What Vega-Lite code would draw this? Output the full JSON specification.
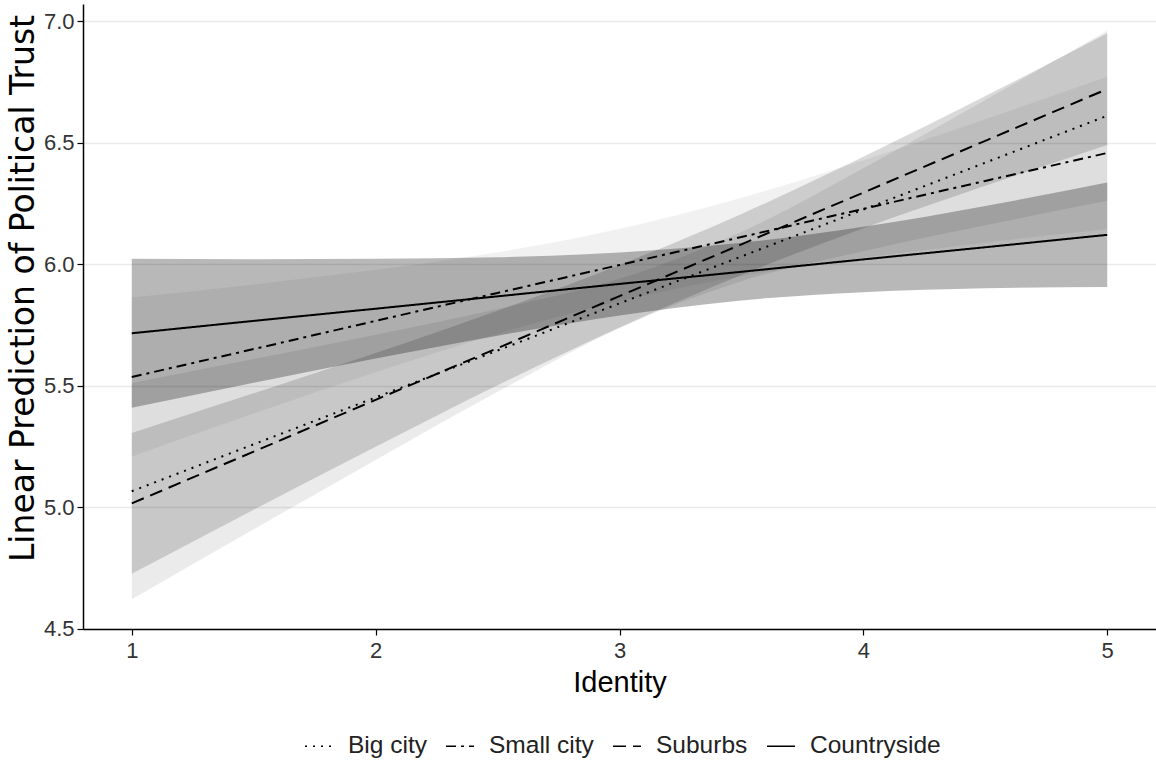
{
  "$schema": "https://vega.github.io/schema/vega-lite/v6.json",
  "width": 1073,
  "height": 625,
  "autosize": {"type": "none"},
  "padding": {"left": 83, "top": 4, "right": 0, "bottom": 135},
  "background": "white",
  "config": {
    "font": "Liberation Sans",
    "view": {"stroke": null},
    "axis": {
      "domainColor": "black",
      "domainWidth": 1.5,
      "tickColor": "black",
      "tickWidth": 1.2,
      "tickSize": 6,
      "labelFontSize": 22,
      "labelColor": "#333333",
      "labelFont": "Liberation Sans",
      "titleFont": "Liberation Sans",
      "titleFontSize": 29,
      "titleFontWeight": "normal",
      "titleColor": "black",
      "gridColor": "#ebebeb",
      "gridWidth": 1.5
    },
    "legend": {
      "labelFontSize": 24.5,
      "labelFont": "Liberation Sans",
      "labelColor": "#222222"
    }
  },
  "data": {
    "values": [
      {"group": "Big city", "x": 1, "fit": 5.065, "lo": 4.620, "hi": 5.510},
      {"group": "Big city", "x": 1.5, "fit": 5.258, "lo": 4.908, "hi": 5.609},
      {"group": "Big city", "x": 2, "fit": 5.451, "lo": 5.193, "hi": 5.709},
      {"group": "Big city", "x": 2.5, "fit": 5.644, "lo": 5.474, "hi": 5.815},
      {"group": "Big city", "x": 3, "fit": 5.838, "lo": 5.736, "hi": 5.939},
      {"group": "Big city", "x": 3.5, "fit": 6.031, "lo": 5.929, "hi": 6.132},
      {"group": "Big city", "x": 4, "fit": 6.224, "lo": 6.053, "hi": 6.394},
      {"group": "Big city", "x": 4.5, "fit": 6.417, "lo": 6.159, "hi": 6.675},
      {"group": "Big city", "x": 5, "fit": 6.610, "lo": 6.260, "hi": 6.960},
      {"group": "Small city", "x": 1, "fit": 5.535, "lo": 5.208, "hi": 5.862},
      {"group": "Small city", "x": 1.5, "fit": 5.650, "lo": 5.385, "hi": 5.916},
      {"group": "Small city", "x": 2, "fit": 5.766, "lo": 5.555, "hi": 5.976},
      {"group": "Small city", "x": 2.5, "fit": 5.881, "lo": 5.713, "hi": 6.048},
      {"group": "Small city", "x": 3, "fit": 5.996, "lo": 5.848, "hi": 6.145},
      {"group": "Small city", "x": 3.5, "fit": 6.111, "lo": 5.950, "hi": 6.273},
      {"group": "Small city", "x": 4, "fit": 6.227, "lo": 6.026, "hi": 6.427},
      {"group": "Small city", "x": 4.5, "fit": 6.342, "lo": 6.088, "hi": 6.596},
      {"group": "Small city", "x": 5, "fit": 6.457, "lo": 6.143, "hi": 6.771},
      {"group": "Suburbs", "x": 1, "fit": 5.015, "lo": 4.725, "hi": 5.305},
      {"group": "Suburbs", "x": 1.5, "fit": 5.228, "lo": 4.989, "hi": 5.468},
      {"group": "Suburbs", "x": 2, "fit": 5.441, "lo": 5.248, "hi": 5.634},
      {"group": "Suburbs", "x": 2.5, "fit": 5.654, "lo": 5.501, "hi": 5.808},
      {"group": "Suburbs", "x": 3, "fit": 5.868, "lo": 5.739, "hi": 5.996},
      {"group": "Suburbs", "x": 3.5, "fit": 6.081, "lo": 5.955, "hi": 6.206},
      {"group": "Suburbs", "x": 4, "fit": 6.294, "lo": 6.147, "hi": 6.441},
      {"group": "Suburbs", "x": 4.5, "fit": 6.507, "lo": 6.322, "hi": 6.691},
      {"group": "Suburbs", "x": 5, "fit": 6.720, "lo": 6.490, "hi": 6.950},
      {"group": "Countryside", "x": 1, "fit": 5.715, "lo": 5.408, "hi": 6.022},
      {"group": "Countryside", "x": 1.5, "fit": 5.766, "lo": 5.511, "hi": 6.020},
      {"group": "Countryside", "x": 2, "fit": 5.816, "lo": 5.611, "hi": 6.022},
      {"group": "Countryside", "x": 2.5, "fit": 5.867, "lo": 5.705, "hi": 6.028},
      {"group": "Countryside", "x": 3, "fit": 5.918, "lo": 5.788, "hi": 6.047},
      {"group": "Countryside", "x": 3.5, "fit": 5.968, "lo": 5.850, "hi": 6.087},
      {"group": "Countryside", "x": 4, "fit": 6.019, "lo": 5.884, "hi": 6.153},
      {"group": "Countryside", "x": 4.5, "fit": 6.069, "lo": 5.900, "hi": 6.239},
      {"group": "Countryside", "x": 5, "fit": 6.120, "lo": 5.905, "hi": 6.335}
    ]
  },
  "layer": [
    {
      "mark": {"type": "area", "interpolate": "monotone", "color": "black"},
      "encoding": {
        "x": {
          "field": "x", "type": "quantitative",
          "scale": {"domain": [0.8, 5.2], "nice": false, "zero": false},
          "axis": {"values": [1, 2, 3, 4, 5], "format": "d", "grid": false, "title": "Identity", "labelPadding": 5, "titlePadding": 7}
        },
        "y": {
          "field": "lo", "type": "quantitative",
          "scale": {"domain": [4.498, 7.07], "nice": false, "zero": false},
          "axis": {"values": [4.5, 5.0, 5.5, 6.0, 6.5, 7.0], "format": ".1f", "grid": true, "title": "Linear Prediction of Political Trust", "titleFont": "DejaVu Sans", "titleFontSize": 33, "titleY": 284, "labelPadding": 3, "titlePadding": 3}
        },
        "y2": {"field": "hi"},
        "detail": {"field": "group"},
        "fillOpacity": {
          "field": "group", "type": "nominal",
          "scale": {"type": "ordinal", "domain": ["Big city", "Small city", "Suburbs", "Countryside"], "range": [0.08, 0.055, 0.15, 0.28]},
          "legend": null
        }
      }
    },
    {
      "mark": {"type": "line", "color": "black", "strokeWidth": 2},
      "encoding": {
        "x": {"field": "x", "type": "quantitative"},
        "y": {"field": "fit", "type": "quantitative"},
        "strokeDash": {
          "field": "group", "type": "nominal",
          "scale": {"domain": ["Big city", "Small city", "Suburbs", "Countryside"], "range": [[2, 6], [10, 5, 3, 5], [13, 7], [1, 0]]},
          "legend": {
            "title": null,
            "orient": "none",
            "direction": "horizontal",
            "legendX": 221,
            "legendY": 727,
            "symbolType": "stroke",
            "symbolStrokeColor": "black",
            "symbolStrokeWidth": 1.5,
            "symbolSize": 784,
            "labelOffset": 14,
            "columnPadding": 16
          }
        }
      }
    }
  ]
}
